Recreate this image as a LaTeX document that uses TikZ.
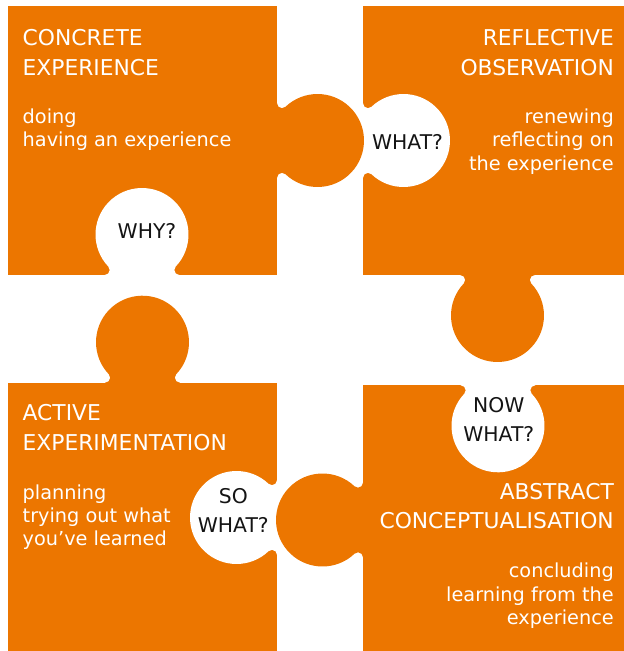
\documentclass[tikz,border=0pt]{standalone}
\usepackage{fontspec}
\setmainfont{DejaVu Sans}
\definecolor{kolb}{RGB}{236,118,0}
\definecolor{qink}{RGB}{20,20,20}
% feature = round knob with filleted neck; local frame: edge on y=0, knob towards +y
\newcommand\pzfeat[4]{%
  \fill[#4,shift={(#1,#2)},rotate=#3]
    (-37.31,-2) -- (-37.31,0)
    arc[start angle=-90,end angle=43.58,radius=5]
    arc[start angle=223.58,end angle=-43.58,radius=46.5]
    arc[start angle=136.42,end angle=270,radius=5]
    -- (37.31,-2) -- cycle;}
\begin{document}
\begin{tikzpicture}[x=1pt,y=-1pt,
  piece/.style={fill=kolb},
  title/.style={text=white,font=\fontsize{21.8}{26}\selectfont,inner sep=0pt},
  body/.style={text=white,font=\fontsize{19.3}{23}\selectfont,inner sep=0pt},
  qtext/.style={text=qink,font=\fontsize{20.3}{24}\selectfont,inner sep=0pt}]
\useasboundingbox (0,0) rectangle (624,651);
% pieces
\fill[piece] (7.5,6) rectangle (277,275);
\fill[piece] (363,6) rectangle (624,275);
\fill[piece] (7.5,382.7) rectangle (277,651);
\fill[piece] (363,385.3) rectangle (624,651);
% holes
\pzfeat{142}{275}{180}{white}
\pzfeat{363}{140.5}{90}{white}
\pzfeat{277}{517.5}{-90}{white}
\pzfeat{498}{385.3}{0}{white}
% tabs
\pzfeat{277}{140.5}{90}{kolb}
\pzfeat{497.5}{275}{0}{kolb}
\pzfeat{142.5}{382.7}{180}{kolb}
\pzfeat{363}{520}{-90}{kolb}
% texts: concrete experience
\node[title,anchor=base west] (ce1) at (22.5,45) {CONCRETE};
\node[title,anchor=base west] (ce2) at (22.5,75) {EXPERIENCE};
\node[body,anchor=base west] (ce3) at (22.5,123) {doing};
\node[body,anchor=base west] (ce4) at (22.5,146.7) {having an experience};
\node[qtext,anchor=base] (why) at (147,238.3) {WHY?};
% reflective observation
\node[title,anchor=base east] (ro1) at (614,45) {REFLECTIVE};
\node[title,anchor=base east] (ro2) at (614,75) {OBSERVATION};
\node[body,anchor=base east] (ro3) at (614,123) {renewing};
\node[body,anchor=base east] (ro4) at (614,146.7) {reflecting on};
\node[body,anchor=base east] (ro5) at (614,170.7) {the experience};
\node[qtext,anchor=base] (what) at (407.5,149) {WHAT?};
% active experimentation
\node[title,anchor=base west] (ae1) at (22.5,420) {ACTIVE};
\node[title,anchor=base west] (ae2) at (22.5,450) {EXPERIMENTATION};
\node[body,anchor=base west] (ae3) at (22.5,499) {planning};
\node[body,anchor=base west] (ae4) at (22.5,522) {trying out what};
\node[body,anchor=base west] (ae5) at (22.5,545.7) {you’ve learned};
\node[qtext,anchor=base] (so1) at (233.3,503.3) {SO};
\node[qtext,anchor=base] (so2) at (233.3,532.3) {WHAT?};
% abstract conceptualisation
\node[qtext,anchor=base] (now1) at (498.8,412.7) {NOW};
\node[qtext,anchor=base] (now2) at (498.8,441.7) {WHAT?};
\node[title,anchor=base east] (ac1) at (614,499) {ABSTRACT};
\node[title,anchor=base east] (ac2) at (614,528.5) {CONCEPTUALISATION};
\node[body,anchor=base east] (ac3) at (614,577.3) {concluding};
\node[body,anchor=base east] (ac4) at (614,601) {learning from the};
\node[body,anchor=base east] (ac5) at (614,624) {experience};
\end{tikzpicture}
\end{document}
